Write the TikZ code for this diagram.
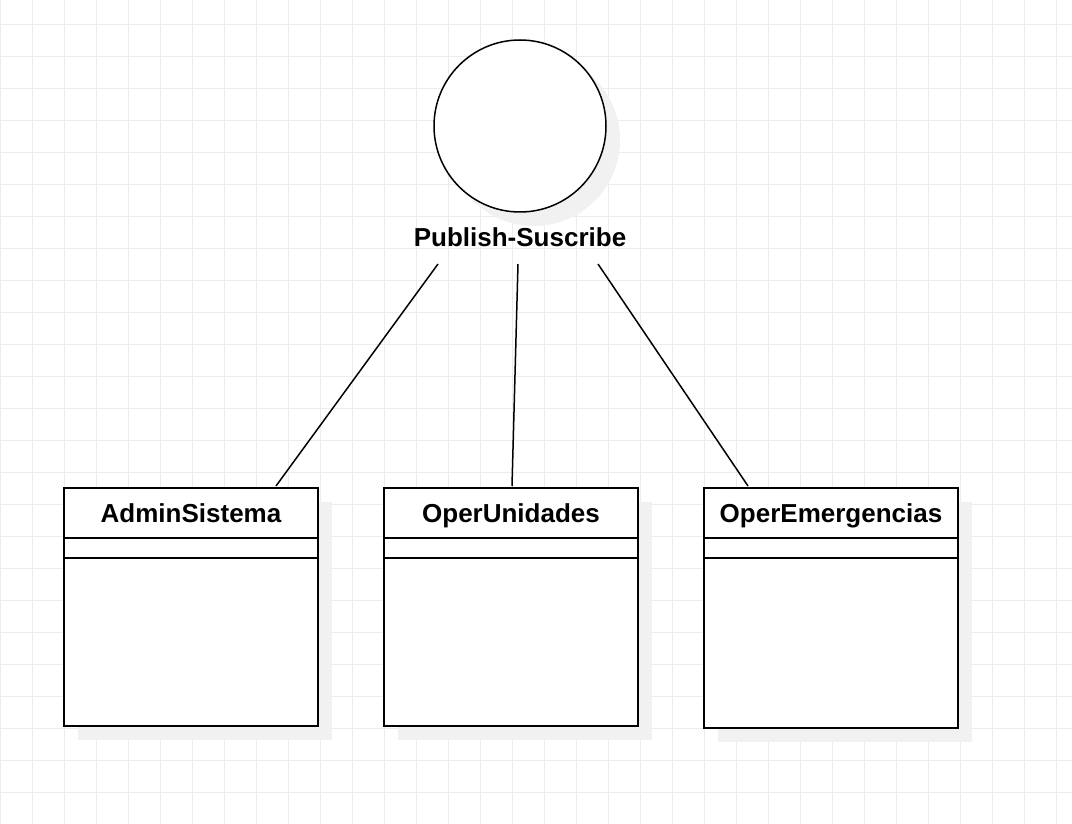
\documentclass[tikz,border=0pt]{standalone}
\usepackage{fontspec}
\setmainfont{Liberation Sans}
\definecolor{gridc}{RGB}{236,236,236}
\definecolor{shadowc}{RGB}{241,241,241}
\begin{document}
\begin{tikzpicture}[x=1pt,y=-1pt,
  umlbox/.style={draw=black, line width=1.6pt, fill=white, minimum width=254pt,
    anchor=north west, inner sep=0pt, outer sep=0pt},
  classtitle/.style={font=\fontsize{26}{31}\selectfont\bfseries, inner sep=0pt, anchor=base},
  divider/.style={line width=1.6pt},
  conn/.style={line width=1.5pt, black},
  shadowfill/.style={fill=shadowc}]
\useasboundingbox (0,0) rectangle (1072,824);
\fill[white] (0,0) rectangle (1072,824);
% grid
\foreach \k in {0,...,33} \draw[gridc, line width=1pt] (\k*32+0.5,0) -- (\k*32+0.5,824);
\foreach \k in {0,...,24} \draw[gridc, line width=1pt] (0,\k*32+24.5) -- (1072,\k*32+24.5);
% shadows
\fill[shadowc] (534,140) circle (86pt);
\fill[shadowc] (78,502) rectangle (332,740);
\fill[shadowc] (398,502) rectangle (652,740);
\fill[shadowc] (718,502) rectangle (972,742);
% circle
\node[draw=black, line width=1.5pt, fill=white, circle, minimum size=172pt, inner sep=0pt] (ps) at (520,126) {};
\node[classtitle] (psl) at (520,246.5) {Publish-Suscribe};
% classes
\node[umlbox, minimum height=238pt] (a) at (64,488) {};
\node[umlbox, minimum height=238pt] (b) at (384,488) {};
\node[umlbox, minimum height=240pt] (c) at (704,488) {};
\foreach \n in {a,b,c} {
  \draw[divider] ([yshift=-50pt]\n.north west) -- ([yshift=-50pt]\n.north east);
  \draw[divider] ([yshift=-70pt]\n.north west) -- ([yshift=-70pt]\n.north east);
}
\node[classtitle] (at) at ([yshift=-34pt]a.north) {AdminSistema};
\node[classtitle] (bt) at ([yshift=-34pt]b.north) {OperUnidades};
\node[classtitle] (ct) at ([yshift=-34pt]c.north) {OperEmergencias};
% connectors
\draw[conn] ([xshift=-82pt,yshift=-17.5pt]psl.base) -- ([xshift=85pt,yshift=2pt]a.north);
\draw[conn] ([xshift=-2pt,yshift=-17.5pt]psl.base) -- ([xshift=1pt,yshift=2pt]b.north);
\draw[conn] ([xshift=78pt,yshift=-17.5pt]psl.base) -- ([xshift=-83pt,yshift=2pt]c.north);
\end{tikzpicture}
\end{document}
